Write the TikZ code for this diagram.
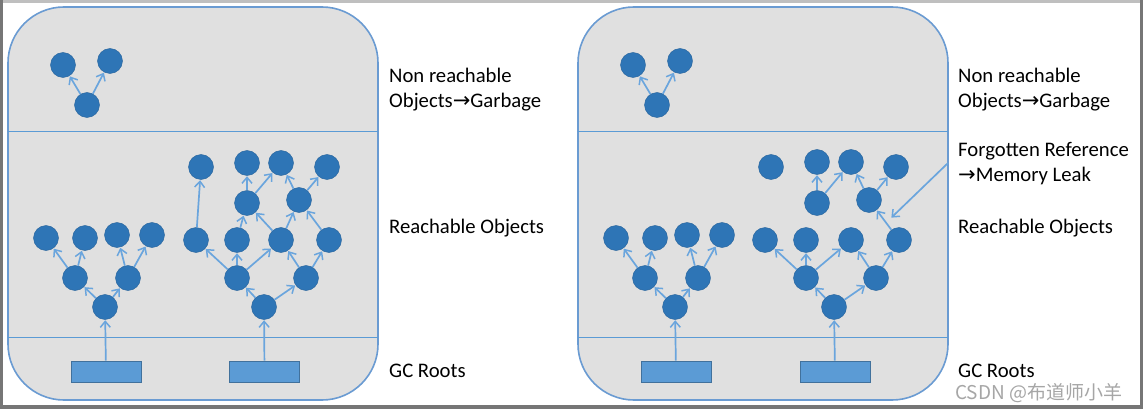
\documentclass[tikz,border=0pt]{standalone}
\usepackage{fontspec}
\setmainfont{Carlito}
\newfontfamily\symf{DejaVu Sans}
\newfontfamily\cjk{Noto Sans CJK SC}
\usetikzlibrary{arrows.meta}
\definecolor{panelfill}{HTML}{E0E0E0}
\definecolor{panelline}{HTML}{6A9BD2}
\definecolor{sepline}{HTML}{5B9BD5}
\definecolor{nodeblue}{HTML}{2E75B6}
\definecolor{arrowblue}{HTML}{6AA5DD}
\definecolor{rootfill}{HTML}{5B9BD5}
\definecolor{rootline}{HTML}{41719C}
\definecolor{framegray}{HTML}{767676}
\tikzset{
  panel/.style={draw=panelline, line width=1.6pt, fill=panelfill, rounded corners=56pt},
  sep/.style={draw=sepline, line width=1.9pt},
  obj/.style={circle, fill=nodeblue, draw=nodeblue!85!black, line width=0.4pt, minimum size=25pt, inner sep=0pt},
  root/.style={rectangle, fill=rootfill, draw=rootline, line width=0.8pt, minimum width=70pt, minimum height=21pt, inner sep=0pt},
  arr/.style={draw=arrowblue, line width=1.7pt, -{Straight Barb[length=6pt,width=10pt,line width=1.5pt]}, shorten >=0.5pt},
  lbl/.style={anchor=base west, inner sep=0pt, font=\fontsize{20.7}{25}\selectfont, text=black},
  wm/.style={anchor=base west, inner sep=0pt, font=\fontsize{19}{22}\selectfont\cjk, text=black!35}
}
\newcommand{\rarr}{{\symf\fontsize{21}{24}\selectfont →}}
\begin{document}
\begin{tikzpicture}[x=1pt,y=-1pt]
\useasboundingbox (0,0) rectangle (1143,409);
% frame
\fill[framegray] (0,0) rectangle (1143,409);
\fill[white] (3,3) rectangle (1140,405);
\fill[black!25] (3,0) rectangle (1140,3);

% ===== panels =====
\foreach \dx in {0,570} {
  \draw[panel] (8+\dx,7) rectangle (378+\dx,400);
  \draw[sep] (8+\dx,131.5) -- (378+\dx,131.5);
  \draw[sep] (8+\dx,337.5) -- (378+\dx,337.5);
}

% ===== LEFT PANEL =====
% garbage
\node[obj] (lg1) at (63,65) {};
\node[obj] (lg2) at (110,61) {};
\node[obj] (lg3) at (87,105) {};
\draw[arr] (lg3) -- (lg1);
\draw[arr] (lg3) -- (lg2);
% tree 1
\node[obj] (la1) at (46,238) {};
\node[obj] (la2) at (85,238) {};
\node[obj] (la3) at (117,235) {};
\node[obj] (la4) at (152,235) {};
\node[obj] (la5) at (75,278) {};
\node[obj] (la6) at (128,278) {};
\node[obj] (la7) at (105,307) {};
\node[root] (lar) at (106,371.5) {};
\draw[arr] (lar) -- (la7);
\draw[arr] (la7) -- (la5);
\draw[arr] (la7) -- (la6);
\draw[arr] (la5) -- (la1);
\draw[arr] (la5) -- (la2);
\draw[arr] (la6) -- (la3);
\draw[arr] (la6) -- (la4);
% tree 2
\node[obj] (lb1) at (201,167) {};
\node[obj] (lb2) at (247,163) {};
\node[obj] (lb3) at (281,163) {};
\node[obj] (lb4) at (327,167) {};
\node[obj] (lb5) at (247,203) {};
\node[obj] (lb6) at (299,200) {};
\node[obj] (lb7) at (196,240) {};
\node[obj] (lb8) at (237,240) {};
\node[obj] (lb9) at (281,240) {};
\node[obj] (lb10) at (329,240) {};
\node[obj] (lb11) at (237,278) {};
\node[obj] (lb12) at (306,278) {};
\node[obj] (lb13) at (264,307) {};
\node[root] (lbr) at (264.5,371.5) {};
\draw[arr] (lbr) -- (lb13);
\draw[arr] (lb13) -- (lb11);
\draw[arr] (lb13) -- (lb12);
\draw[arr] (lb11) -- (lb7);
\draw[arr] (lb11) -- (lb8);
\draw[arr] (lb11) -- (lb9);
\draw[arr] (lb12) -- (lb9);
\draw[arr] (lb12) -- (lb10);
\draw[arr] (lb7) -- (lb1);
\draw[arr] (lb8) -- (lb5);
\draw[arr] (lb9) -- (lb5);
\draw[arr] (lb9) -- (lb6);
\draw[arr] (lb10) -- (lb6);
\draw[arr] (lb5) -- (lb2);
\draw[arr] (lb5) -- (lb3);
\draw[arr] (lb6) -- (lb3);
\draw[arr] (lb6) -- (lb4);

% ===== RIGHT PANEL =====
\node[obj] (rg1) at (633,65) {};
\node[obj] (rg2) at (680,61) {};
\node[obj] (rg3) at (657,105) {};
\draw[arr] (rg3) -- (rg1);
\draw[arr] (rg3) -- (rg2);
% tree 1
\node[obj] (ra1) at (616,238) {};
\node[obj] (ra2) at (655,238) {};
\node[obj] (ra3) at (687,235) {};
\node[obj] (ra4) at (722,235) {};
\node[obj] (ra5) at (645,278) {};
\node[obj] (ra6) at (698,278) {};
\node[obj] (ra7) at (675,307) {};
\node[root] (rar) at (676,371.5) {};
\draw[arr] (rar) -- (ra7);
\draw[arr] (ra7) -- (ra5);
\draw[arr] (ra7) -- (ra6);
\draw[arr] (ra5) -- (ra1);
\draw[arr] (ra5) -- (ra2);
\draw[arr] (ra6) -- (ra3);
\draw[arr] (ra6) -- (ra4);
% tree 2
\node[obj] (rb1) at (771,167) {};
\node[obj] (rb2) at (817,162) {};
\node[obj] (rb3) at (851,162) {};
\node[obj] (rb4) at (896,167) {};
\node[obj] (rb5) at (817,203) {};
\node[obj] (rb6) at (869,200) {};
\node[obj] (rb7) at (765,240) {};
\node[obj] (rb8) at (806,240) {};
\node[obj] (rb9) at (851,240) {};
\node[obj] (rb10) at (899,240) {};
\node[obj] (rb11) at (806,278) {};
\node[obj] (rb12) at (876,278) {};
\node[obj] (rb13) at (834,307) {};
\node[root] (rbr) at (835,371.5) {};
\draw[arr] (rbr) -- (rb13);
\draw[arr] (rb13) -- (rb11);
\draw[arr] (rb13) -- (rb12);
\draw[arr] (rb11) -- (rb7);
\draw[arr] (rb11) -- (rb8);
\draw[arr] (rb11) -- (rb9);
\draw[arr] (rb12) -- (rb9);
\draw[arr] (rb12) -- (rb10);
\draw[arr] (rb10) -- (rb6);
\draw[arr] (rb5) -- (rb2);
\draw[arr] (rb5) -- (rb3);
\draw[arr] (rb6) -- (rb3);
\draw[arr] (rb6) -- (rb4);
% forgotten reference pointer
\coordinate (frs) at (948,163);
\coordinate (fre) at (891,218);
\draw[arr] (frs) -- (fre);

% ===== labels =====
\node[lbl] (l1) at (389,83) {Non reachable};
\node[lbl] (l2) at (389,108) {Objects\rarr Garbage};
\node[lbl] (l3) at (389,233) {Reachable Objects};
\node[lbl] (l4) at (389,377) {GC Roots};
\node[lbl] (r1) at (958,83) {Non reachable};
\node[lbl] (r2) at (958,108) {Objects\rarr Garbage};
\node[lbl] (r3) at (958,157) {Forgotten Reference};
\node[lbl] (r4) at (958,182) {\rarr Memory Leak};
\node[lbl] (r5) at (958,233) {Reachable Objects};
\node[lbl] (r6) at (958,377) {GC Roots};
\node[wm] (wm) at (955,399.5) {CSDN @布道师小羊};
\end{tikzpicture}
\end{document}
